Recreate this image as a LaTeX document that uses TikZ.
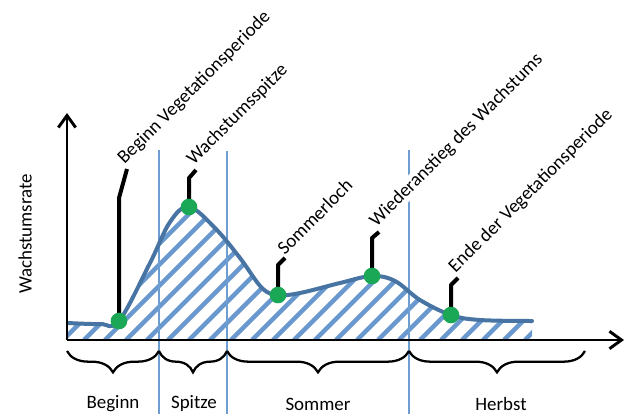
\documentclass[tikz,border=0pt]{standalone}
\usepackage{fontspec}
\setmainfont{Carlito}
\usetikzlibrary{arrows.meta,decorations.pathreplacing}
\definecolor{curveblue}{RGB}{72,116,164}
\definecolor{hatchblue}{RGB}{104,152,206}
\definecolor{lineblue}{RGB}{108,158,210}
\definecolor{dotgreen}{RGB}{26,168,86}
\begin{document}
\begin{tikzpicture}[x=0.75pt,y=-0.75pt,
  txt/.style={font=\fontsize{14.2}{17}\selectfont, inner sep=1pt},
  lbl/.style={txt, rotate=45, anchor=south west, fill=white},
  dot/.style={circle, fill=dotgreen, minimum size=12.5pt, inner sep=0pt},
  pointer/.style={line width=3pt, line join=round},
  axis/.style={line width=1.5pt, -{Straight Barb[length=9pt,width=13pt,line width=2.2pt]}},
  phase/.style={lineblue, line width=1.4pt},
  hatch/.style={hatchblue, line width=3.3pt},
  curve/.style={curveblue, line width=3pt, line cap=round},
  brace/.style={line width=1.7pt, decorate, decoration={brace, mirror, amplitude=16pt}}
]
\useasboundingbox (0,0) rectangle (624,414);

% hatched area under the curve
\begin{scope}
\clip plot[smooth, tension=0.6] coordinates {(68,323) (100,324) (119,321) (150,263) (170,222) (189,207) (215,228) (240,258) (262,288) (278,295) (300,293) (340,283) (372,276) (395,281) (420,300) (451,315) (480,320) (532,321)} -- (532,340) -- (68,340) -- cycle;
\foreach \i in {-15,...,27} {
  \draw[hatch] (\i*21,340) -- ++(320,-320);
}
\end{scope}

% phase separators
\coordinate (p1t) at (159,150); \coordinate (p1b) at (159,414);
\coordinate (p2t) at (227,151); \coordinate (p2b) at (227,414);
\coordinate (p3t) at (409,150); \coordinate (p3b) at (409,414);
\draw[phase] (p1t) -- (p1b);
\draw[phase] (p2t) -- (p2b);
\draw[phase] (p3t) -- (p3b);

% growth curve
\draw[curve] plot[smooth, tension=0.6] coordinates {(68,323) (100,324) (119,321) (150,263) (170,222) (189,207) (215,228) (240,258) (262,288) (278,295) (300,293) (340,283) (372,276) (395,281) (420,300) (451,315) (480,320) (532,321)};

% axes
\coordinate (o) at (67,340);
\coordinate (ytop) at (67,113);
\coordinate (xend) at (624,340);
\draw[axis] (o) -- (ytop);
\draw[axis] (o) -- (xend);
\node[txt, rotate=90] (ylab) at (25,234) {Wachstumsrate};

% labels
\node[lbl] (l1) at (127,169) {Beginn Vegetationsperiode};
\node[lbl] (l2) at (196,170) {Wachstumsspitze};
\node[lbl] (l3) at (285,258) {Sommerloch};
\node[lbl] (l4) at (379,232) {Wiederanstieg des Wachstums};
\node[lbl] (l5) at (458,278) {Ende der Vegetationsperiode};

% points on the curve
\coordinate (c1) at (119,321);
\coordinate (c2) at (189,207);
\coordinate (c3) at (278,295);
\coordinate (c4) at (372,276);
\coordinate (c5) at (451,315);

% pointers
\draw[pointer] (c1) -- (119,198) -- (l1.south west);
\draw[pointer] (c2) -- (189,178) -- (l2.south west);
\draw[pointer] (c3) -- (278,265) -- (l3.south west);
\draw[pointer] (c4) -- (372,238) -- (l4.south west);
\draw[pointer] (c5) -- (451,285) -- (l5.south west);

% dots
\node[dot] (d1) at (c1) {};
\node[dot] (d2) at (c2) {};
\node[dot] (d3) at (c3) {};
\node[dot] (d4) at (c4) {};
\node[dot] (d5) at (c5) {};

% braces
\coordinate (b0) at (67,351);
\coordinate (b1) at (159,351);
\coordinate (b2) at (227,351);
\coordinate (b3) at (409,351);
\coordinate (b4) at (585,351);
\draw[brace] (b0) -- (b1);
\draw[brace] (b1) -- (b2);
\draw[brace] (b2) -- (b3);
\draw[brace] (b3) -- (b4);

% phase names
\node[txt] (t1) at (113,404) {Beginn};
\node[txt] (t2) at (194,404) {Spitze};
\node[txt] (t3) at (318,404) {Sommer};
\node[txt] (t4) at (501,404) {Herbst};
\end{tikzpicture}
\end{document}
